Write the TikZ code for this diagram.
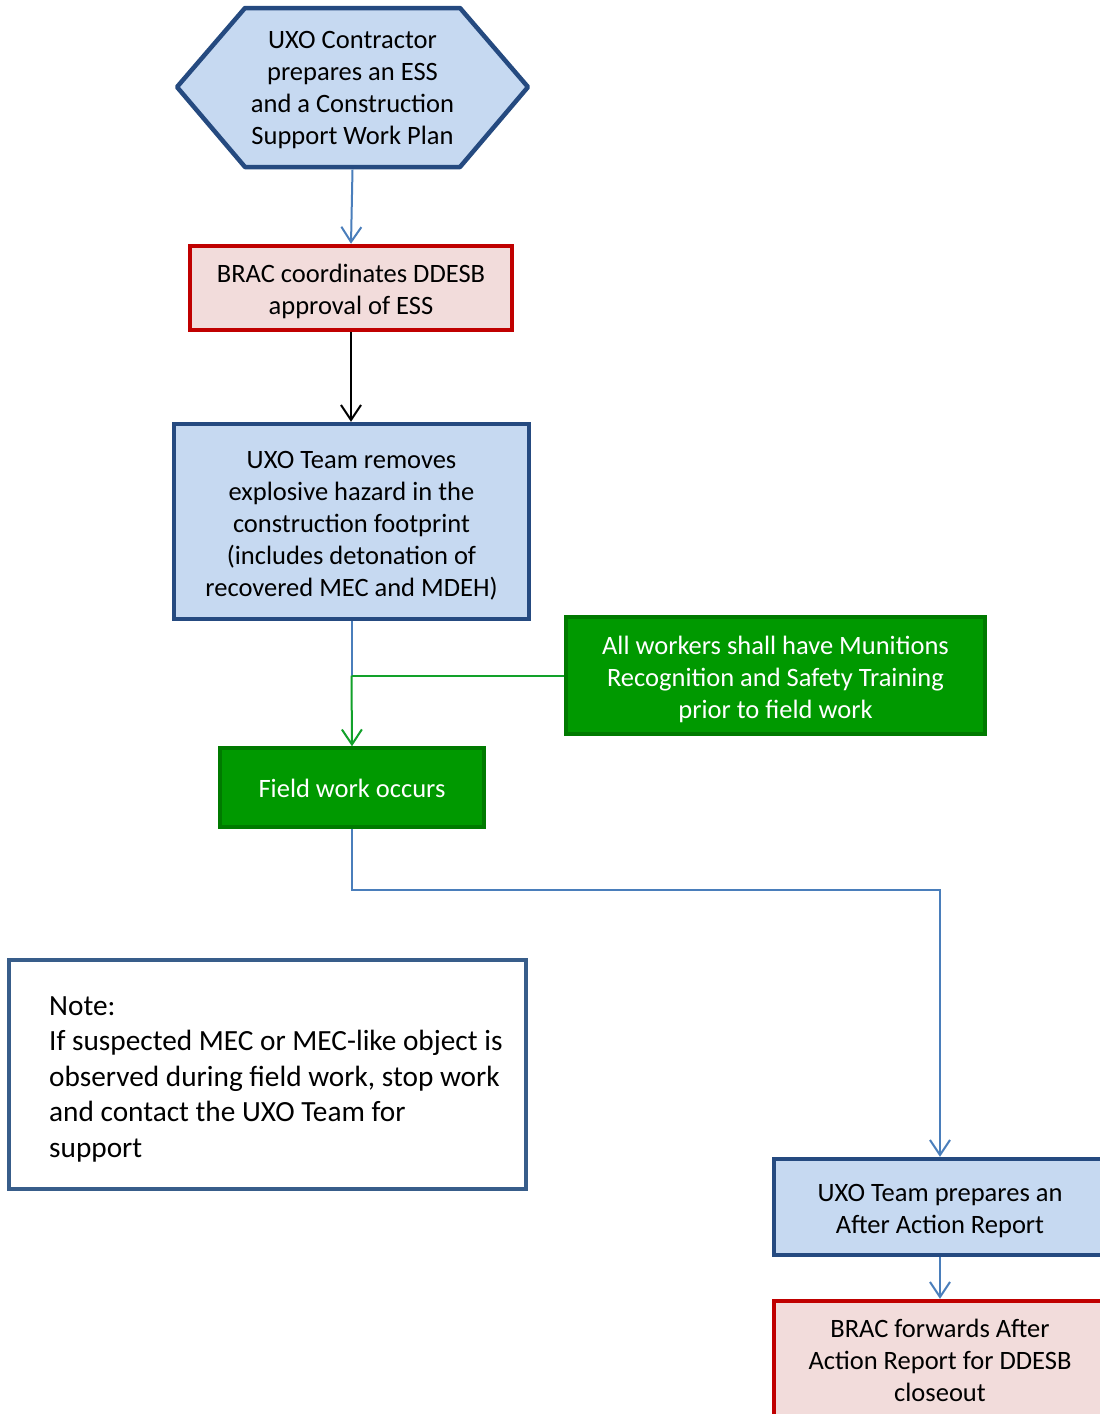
\documentclass[tikz,border=0pt]{standalone}
\usepackage{fontspec}
\setmainfont{Carlito}
\usetikzlibrary{arrows.meta}
\definecolor{lblue}{HTML}{C6D9F1}
\definecolor{dblue}{HTML}{254A80}
\definecolor{cblue}{HTML}{4A7EBB}
\definecolor{pinkf}{HTML}{F2DCDB}
\definecolor{redb}{HTML}{C00000}
\definecolor{greenf}{HTML}{009900}
\definecolor{greenb}{HTML}{007A00}
\definecolor{greenl}{HTML}{12A12A}
\definecolor{noteb}{HTML}{385D8A}
\tikzset{
  boxtext/.style={font=\fontsize{26.5}{32}\selectfont, align=center, inner sep=0},
  whitetext/.style={boxtext, text=white},
  bluebox/.style={rectangle, draw=dblue, fill=lblue, line width=4.5pt},
  redbox/.style={rectangle, draw=redb, fill=pinkf, line width=4.5pt},
  greenbox/.style={rectangle, draw=greenb, fill=greenf, line width=3.5pt},
  notebox/.style={draw=noteb, fill=white, line width=4.5pt, rectangle},
  tip/.style={-{Straight Barb[length=15pt,width=20pt,line width=2pt]}},
  bline/.style={draw=cblue, line width=2pt},
  kline/.style={draw=black, line width=2pt},
  gline/.style={draw=greenl, line width=2pt},
}
\begin{document}
\begin{tikzpicture}[x=1pt,y=-1pt]
\clip (0,0) rectangle (1100,1414);
\fill[white] (0,0) rectangle (1100,1414);
% hexagon
\draw[draw=dblue, fill=lblue, line width=4.5pt, line join=round]
  (245,8) -- (460,8) -- (528,87) -- (460,167) -- (245,167) -- (177,87) -- cycle;
\node[boxtext, minimum width=351, minimum height=159] (hex) at (352.5,90)
  {UXO Contractor\\prepares an ESS\\and a Construction\\Support Work Plan};
% boxes
\node[redbox, minimum width=322, minimum height=84] (brac1) at (351,288) {};
\node[boxtext] (brac1t) at (351,291) {BRAC coordinates DDESB\\approval of ESS};
\node[bluebox, minimum width=355, minimum height=195] (remove) at (351.5,521.5) {};
\node[boxtext] (removet) at (351.5,525.5)
  {UXO Team removes\\explosive hazard in the\\construction footprint\\(includes detonation of\\recovered MEC and MDEH)};
\node[greenbox, minimum width=419, minimum height=117] (train) at (775.5,675.5) {};
\node[whitetext] (traint) at (775.5,679.5)
  {All workers shall have Munitions\\Recognition and Safety Training\\prior to field work};
\node[greenbox, minimum width=264, minimum height=79] (field) at (352,787.5) {};
\node[whitetext] (fieldt) at (352,788.5) {Field work occurs};
\node[notebox, minimum width=517, minimum height=229] (note) at (267.5,1074.5) {};
\node[anchor=west, align=left, inner sep=0, font=\fontsize{29.3}{35.5}\selectfont] (notetext) at (49,1079)
  {Note:\\If suspected MEC or MEC-like object is\\observed during field work, stop work\\and contact the UXO Team for\\support};
\node[bluebox, minimum width=332, minimum height=96] (aar) at (940,1207) {};
\node[boxtext] (aart) at (940,1211) {UXO Team prepares an\\After Action Report};
\node[redbox, minimum width=332, minimum height=118] (brac2) at (940,1360) {};
\node[boxtext] (brac2t) at (940,1360) {BRAC forwards After\\Action Report for DDESB\\closeout};
% connectors
\draw[bline, tip] (hex.south) -- (brac1.north);
\draw[kline, tip] (brac1.south) -- (brac1.south |- remove.north);
\coordinate (j) at (train.west -| remove.south);
\draw[bline] (remove.south) -- (j);
\draw[gline] (train.west) -- (j);
\draw[gline, tip] (j) -- (field.north);
\draw[bline, tip] (field.south) -- ++(0,61) -| (aar.north);
\draw[bline, tip] (aar.south) -- (brac2.north);
\end{tikzpicture}
\end{document}
